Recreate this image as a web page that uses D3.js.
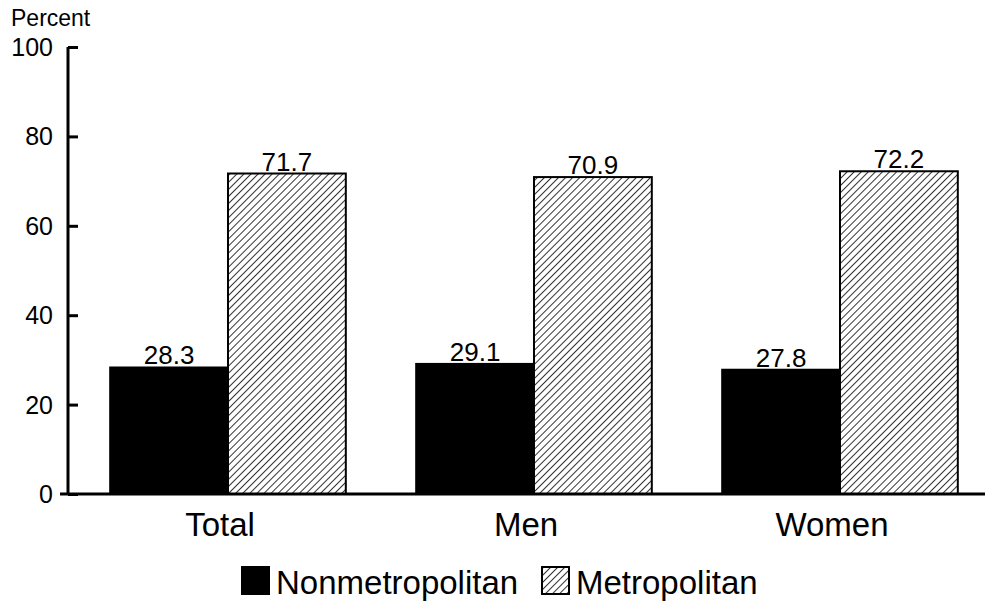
<!DOCTYPE html>
<head>
    <meta charset="utf-8">
    <script src="https://d3js.org/d3.v7.min.js"></script>
    <style>
      body { margin: 0; background: #fff; }
      text {
        font-family: "Liberation Sans", Arial, sans-serif;
        fill: #000;
      }
    </style>
</head>
<body>
    <script>
        // data
        var categories = ["Total", "Men", "Women"]
        var series = ["Nonmetropolitan", "Metropolitan"]
        var nonmetro = [28.3, 29.1, 27.8]
        var metro = [71.7, 70.9, 72.2]
        var yTicks = [0, 20, 40, 60, 80, 100]

        var svg_w = 991, svg_h = 603
        var svg = d3.select("body").append("svg")
          .attr("width", svg_w)
          .attr("height", svg_h)

        var defs = svg.append("defs")
        defs.append("pattern")
          .attr("id", "hatch")
          .attr("patternUnits", "userSpaceOnUse")
          .attr("width", 5).attr("height", 5)
          .attr("patternTransform", "rotate(45)")
          .append("line")
          .attr("x1", 0).attr("y1", 0).attr("x2", 0).attr("y2", 5)
          .attr("stroke", "#000").attr("stroke-width", 1.6)

        var y = d3.scaleLinear().domain([0, 100]).range([494, 47])
        var x = d3.scaleBand().domain(categories).range([75, 993])
          .paddingInner(0.23).paddingOuter(0.115)
        var xs = d3.scaleBand().domain(series).range([0, x.bandwidth()])

        var fills = {"Nonmetropolitan": "#000", "Metropolitan": "url(#hatch)"}

        var rows = []
        categories.forEach(function(c, i) {
          rows.push({cat: c, s: "Nonmetropolitan", v: nonmetro[i]})
          rows.push({cat: c, s: "Metropolitan", v: metro[i]})
        })

        // bars
        svg.selectAll(".bar").data(rows).enter().append("rect")
          .attr("class", "bar")
          .attr("x", function(d) { return x(d.cat) + xs(d.s) })
          .attr("y", function(d) { return y(d.v) })
          .attr("width", xs.bandwidth())
          .attr("height", function(d) { return y(0) - y(d.v) })
          .attr("fill", function(d) { return fills[d.s] })
          .attr("stroke", "#000")
          .attr("stroke-width", 2)

        svg.selectAll(".val").data(rows).enter().append("text")
          .attr("class", "val")
          .attr("x", function(d) { return x(d.cat) + xs(d.s) + xs.bandwidth() / 2 })
          .attr("y", function(d) { return y(d.v) - 3 })
          .attr("text-anchor", "middle")
          .style("font-size", "26px")
          .text(function(d) { return d.v.toFixed(1) })

        // y axis
        var yAxis = svg.append("g")
          .attr("transform", "translate(68,0)")
          .call(d3.axisRight(y).tickValues(yTicks).tickSize(10).tickFormat(""))
        yAxis.select(".domain").attr("stroke-width", 3).attr("d", "M0," + y(0) + "V" + y(100))
        yAxis.selectAll(".tick line").attr("stroke-width", 3)

        svg.selectAll(".ylab").data(yTicks).enter().append("text")
          .attr("x", 53)
          .attr("y", function(d) { return y(d) + 9 })
          .attr("text-anchor", "end")
          .style("font-size", "25px")
          .text(function(d) { return d })

        svg.append("text")
          .attr("x", 11).attr("y", 26)
          .style("font-size", "23px")
          .text("Percent")

        // x axis
        svg.append("line")
          .attr("x1", 60).attr("x2", 985)
          .attr("y1", y(0)).attr("y2", y(0))
          .attr("stroke", "#000").attr("stroke-width", 3)

        svg.selectAll(".xlab").data(categories).enter().append("text")
          .attr("x", function(d) { return x(d) + x.bandwidth() / 2 - 8 })
          .attr("y", 536)
          .attr("text-anchor", "middle")
          .style("font-size", "33px")
          .text(function(d) { return d })

        // legend
        var legend = svg.append("g")
        var lx = [242, 542]
        series.forEach(function(s, i) {
          legend.append("rect")
            .attr("x", lx[i]).attr("y", 567)
            .attr("width", 27).attr("height", 27)
            .attr("fill", fills[s])
            .attr("stroke", "#000").attr("stroke-width", 2)
          legend.append("text")
            .attr("x", lx[i] + 34).attr("y", 594)
            .style("font-size", "33px")
            .text(s)
        })
    </script>
</body>
